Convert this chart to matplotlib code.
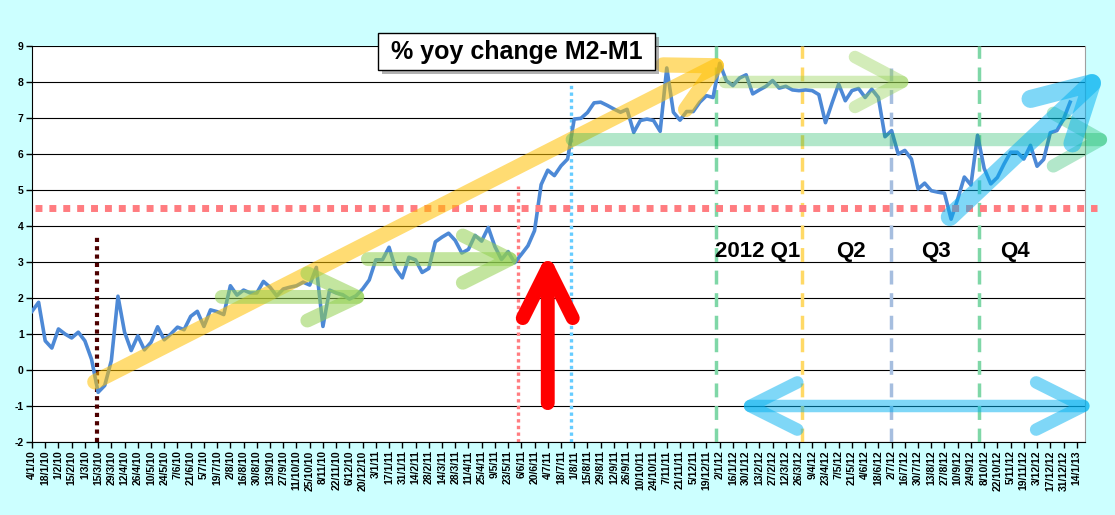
import numpy as np
import pandas as pd
import matplotlib.pyplot as plt
from matplotlib.patches import Rectangle, ArrowStyle

plt.rcParams['font.family'] = ['Liberation Sans', 'DejaVu Sans']

# weekly % yoy change M2-M1, starting 4/1/2010
week_start = '2010-01-04'
n_weeks_axis = 159
yoy_change = [
    1.63, 1.88, 0.81, 0.61, 1.14, 1.00, 0.89, 1.05, 0.81, 0.30,
    -0.62, -0.43, 0.26, 2.05, 1.05, 0.54, 0.95, 0.56, 0.77, 1.20,
    0.84, 1.00, 1.19, 1.12, 1.49, 1.63, 1.21, 1.67, 1.62, 1.54,
    2.34, 2.08, 2.22, 2.14, 2.14, 2.46, 2.30, 2.06, 2.25, 2.30,
    2.34, 2.44, 2.36, 2.85, 1.21, 2.22, 2.14, 2.09, 1.97, 2.06,
    2.25, 2.50, 3.06, 3.06, 3.41, 2.81, 2.56, 3.13, 3.06, 2.71,
    2.82, 3.56, 3.69, 3.80, 3.60, 3.25, 3.35, 3.74, 3.58, 3.96,
    3.43, 3.07, 3.29, 2.98, 3.21, 3.45, 3.87, 5.15, 5.55, 5.40,
    5.67, 5.86, 6.97, 6.99, 7.15, 7.42, 7.44, 7.35, 7.25, 7.16,
    7.24, 6.60, 6.93, 6.97, 6.93, 6.63, 8.39, 7.16, 6.94, 7.18,
    7.18, 7.44, 7.62, 7.57, 8.52, 8.04, 7.90, 8.11, 8.20, 7.67,
    7.78, 7.88, 8.04, 7.83, 7.88, 7.78, 7.76, 7.78, 7.76, 7.65,
    6.87, 7.42, 7.94, 7.48, 7.76, 7.82, 7.57, 7.80, 7.57, 6.48,
    6.65, 6.00, 6.10, 5.86, 5.03, 5.19, 4.98, 4.94, 4.91, 4.19,
    4.75, 5.36, 5.14, 6.52, 5.60, 5.17, 5.35, 5.72, 6.05, 6.05,
    5.86, 6.24, 5.66, 5.85, 6.59, 6.65, 6.97, 7.44,
]
y_ticks = list(range(-2, 10))
quarter_labels = ['2012 Q1', 'Q2', 'Q3', 'Q4']
quarter_pos = [109.7, 123.9, 136.7, 148.7]
title = '% yoy change M2-M1'

dates = pd.date_range(week_start, periods=n_weeks_axis, freq='7D')
tick_idx = list(range(0, n_weeks_axis, 2))
tick_labels = [f'{dates[i].day}/{dates[i].month}/{dates[i].year % 100:02d}' for i in tick_idx]

fig = plt.figure(figsize=(11.15, 5.15), dpi=100, facecolor='#CCFFFF')
ax = fig.add_axes([32 / 1115, 1 - 442 / 515, (1085 - 32) / 1115, (442 - 46) / 515])
ax.set_facecolor('white')
ax.set_xlim(0, 159.25)
ax.set_ylim(-2, 9)

# grid
for v in y_ticks:
    ax.axhline(v, color='black', lw=0.8, zorder=1)

# vertical marker lines
ax.plot([9.83, 9.83], [-2, 3.75], color='#4D0000', lw=3, ls=(0, (1, 1)), zorder=2)
ax.plot([73.5, 73.5], [-2, 5.1], color='#FF7C80', lw=2.4, ls=(0, (1, 1)), zorder=2)
ax.plot([81.5, 81.5], [-2, 8.0], color='#66CCFF', lw=2.4, ls=(0, (1, 1)), zorder=2)
ax.plot([103.4, 103.4], [-2, 9], color='#7FD7A7', lw=2.5, ls=(0, (4, 2.5)), zorder=2)
ax.plot([116.5, 116.5], [-2, 9], color='#FFD966', lw=2.5, ls=(0, (4, 2.5)), zorder=2)
ax.plot([129.9, 129.9], [-2, 8.4], color='#A6BEDF', lw=2.5, ls=(0, (4, 2.5)), zorder=2)
ax.plot([143.2, 143.2], [-2, 9], color='#7FD7A7', lw=2.5, ls=(0, (4, 2.5)), zorder=2)

# data line
ax.plot(range(len(yoy_change)), yoy_change, color='#4D89D6', lw=2.6, zorder=3,
        solid_joinstyle='round')

# horizontal dotted level
ax.plot([0.4, 161], [4.5, 4.5], color='#FF7C80', lw=5, ls=(0, (1, 1)), zorder=4,
        clip_on=False)


def arrow(start, end, color, alpha, lw, hl, hw, style='->'):
    # push the tips forward so the arrow head vertex sits on the given point
    p0 = ax.transData.transform(start)
    p1 = ax.transData.transform(end)
    d = (p1 - p0) / np.hypot(*(p1 - p0))
    pad = 0.5 * lw / (hw / np.hypot(hl, hw)) * fig.dpi / 72
    p1 = p1 + d * pad
    if style == '<->':
        p0 = p0 - d * pad
    inv = ax.transData.inverted()
    ax.annotate('', xy=inv.transform(p1), xytext=inv.transform(p0), zorder=5,
                annotation_clip=False,
                arrowprops=dict(arrowstyle=ArrowStyle(style, head_length=hl, head_width=hw),
                                mutation_scale=1, color=color, alpha=alpha, lw=lw,
                                shrinkA=0, shrinkB=0, capstyle='round', joinstyle='round',
                                clip_on=False))


arrow((9.5, -0.33), (103.5, 8.45), '#FFC000', 0.55, 11, 34, 18)
arrow((28.7, 2.03), (49.2, 2.03), '#92D050', 0.55, 10, 36, 17)
arrow((50.8, 3.08), (72.3, 3.08), '#92D050', 0.55, 10, 34, 17)
arrow((104.8, 8.0), (131.6, 8.0), '#92D050', 0.4, 9, 34, 18)
arrow((81.7, 6.4), (161.6, 6.4), '#00B050', 0.3, 9.5, 34, 19)
arrow((138.8, 4.25), (160.3, 7.97), '#00B0F0', 0.5, 13, 40, 22)
arrow((108.6, -1.0), (159.0, -1.0), '#00B0F0', 0.5, 9, 34, 17, style='<->')
arrow((78.0, -0.92), (78.0, 2.83), '#FF0000', 1.0, 10, 36, 18)

for lab, pos in zip(quarter_labels, quarter_pos):
    ax.text(pos, 3.3, lab, ha='center', va='center', fontsize=16, fontweight='bold',
            zorder=6)

# axes styling
ax.set_yticks(y_ticks)
ax.set_yticklabels([str(v) for v in y_ticks], fontsize=7.5, fontweight='bold')
ax.set_xticks(tick_idx)
ax.set_xticklabels(tick_labels, rotation=90, fontsize=7.5, fontweight='bold')
ax.tick_params(axis='both', direction='out', length=4, width=1, pad=2)
ax.spines['top'].set_visible(False)
ax.spines['right'].set_color('#A0A0A0')
ax.spines['left'].set_color('black')
ax.spines['bottom'].set_color('black')

# title box with shadow
W, H = 1115, 515
fig.patches.append(Rectangle((382 / W, 1 - 74 / H), 277 / W, 37 / H, transform=fig.transFigure,
                             facecolor='#808080', alpha=0.6, edgecolor='none', zorder=7))
fig.patches.append(Rectangle((378 / W, 1 - 70 / H), 277 / W, 37 / H, transform=fig.transFigure,
                             facecolor='white', edgecolor='black', lw=1, zorder=8))
fig.text(516.5 / W, 1 - 52 / H, title, ha='center', va='center', fontsize=18,
         fontweight='bold', zorder=9)

fig.savefig('out.png', dpi=100, facecolor=fig.get_facecolor())
